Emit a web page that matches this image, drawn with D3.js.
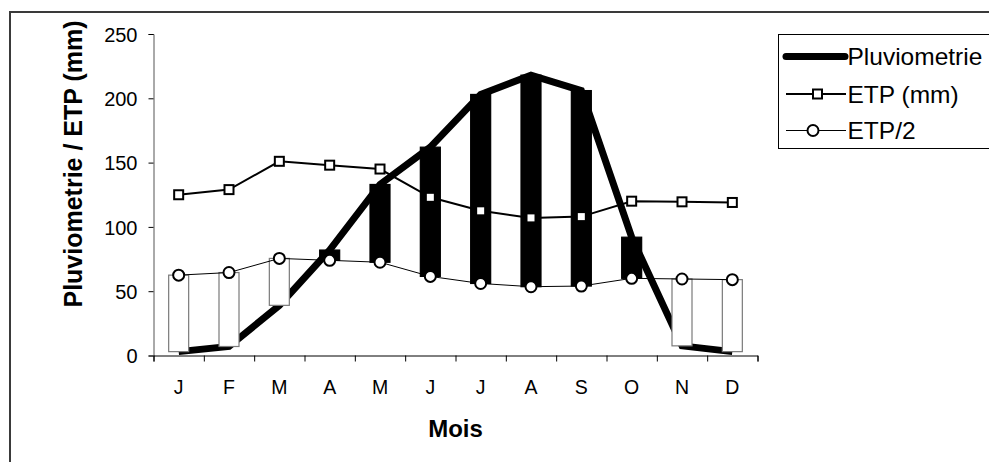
<!DOCTYPE html>
<html>
<head>
<meta charset="utf-8">
<script src="https://cdn.jsdelivr.net/npm/d3@7"></script>
<style>
  html, body { margin: 0; padding: 0; background: #fff; }
  svg { display: block; }
  text { font-family: "Liberation Sans", Arial, sans-serif; fill: #000; }
</style>
</head>
<body>
<svg id="chart" width="989" height="462"></svg>
<script>
// ---- data ----
const months = ["J", "F", "M", "A", "M", "J", "J", "A", "S", "O", "N", "D"];
const pluvio = [3, 7, 39, 82, 133, 162, 203, 218, 206, 92, 7.5, 3];
const etp    = [125, 129, 151, 148, 145, 123, 112.5, 107, 108, 120, 119.5, 119];
const etp2   = [62.5, 64.5, 75.5, 74, 72.5, 61.5, 56, 53.5, 54, 60, 59.5, 59];
const yTicks = [0, 50, 100, 150, 200, 250];
const seriesNames = ["Pluviometrie", "ETP (mm)", "ETP/2"];
const yTitle = "Pluviometrie / ETP (mm)";
const xTitle = "Mois";

const svg = d3.select("#chart");

// outer chart frame (cropped on right and bottom)
svg.append("rect")
  .attr("x", 10).attr("y", 12)
  .attr("width", 1100).attr("height", 600)
  .attr("fill", "none").attr("stroke", "#3a3a3a").attr("stroke-width", 2);

const x = d3.scaleBand().domain(d3.range(months.length)).range([153.5, 757.5]).padding(0);
const cx = i => x(i) + x.bandwidth() / 2;
const y = d3.scaleLinear().domain([0, 250]).range([355.5, 34]);

// y axis
const yAxis = d3.axisLeft(y).tickValues(yTicks).tickSize(5).tickPadding(11).tickFormat(d3.format("d"));
const gy = svg.append("g").attr("transform", "translate(153.5,0)").call(yAxis);
gy.select(".domain").attr("stroke", "#555").attr("stroke-width", 1);
gy.selectAll(".tick line").attr("stroke", "#000");
gy.selectAll(".tick text").style("font-size", "20px").attr("font-family", null).attr("dy", "0.36em");

// x axis: ticks between categories
const xLin = d3.scaleLinear().domain([0, months.length]).range([153.5, 757.5]);
const gx = svg.append("g").attr("transform", "translate(0,355.5)")
  .call(d3.axisBottom(xLin).tickValues(d3.range(months.length + 1)).tickSize(6).tickFormat(""));
gx.select(".domain").attr("stroke", "#000");
gx.selectAll(".tick line").attr("stroke", "#000");
svg.append("g").selectAll("text").data(months).join("text")
  .attr("x", (d, i) => cx(i)).attr("y", 393.5)
  .attr("text-anchor", "middle").style("font-size", "19.5px")
  .text(d => d);

// axis titles
svg.append("text")
  .attr("transform", "translate(82,164) rotate(-90)")
  .attr("text-anchor", "middle")
  .style("font-size", "25px").style("font-weight", "bold")
  .text(yTitle);
svg.append("text")
  .attr("x", 455.5).attr("y", 436.5)
  .attr("text-anchor", "middle")
  .style("font-size", "24px").style("font-weight", "bold")
  .text(xTitle);

// Pluviometrie thick line (under the up/down bars)
const line = d3.line().x((d, i) => cx(i)).y(d => y(d));
svg.append("path").datum(pluvio)
  .attr("d", line).attr("fill", "none")
  .attr("stroke", "#000").attr("stroke-width", 7).attr("stroke-linejoin", "miter");

// up/down bars between Pluviometrie and ETP/2
const barW = 20;
svg.append("g").selectAll("rect").data(months.map((m, i) => i)).join("rect")
  .attr("x", i => cx(i) - barW / 2)
  .attr("width", barW)
  .attr("y", i => y(Math.max(pluvio[i], etp2[i])))
  .attr("height", i => Math.abs(y(pluvio[i]) - y(etp2[i])))
  .attr("fill", i => pluvio[i] > etp2[i] ? "#000" : "#fff")
  .attr("stroke", i => pluvio[i] > etp2[i] ? "#000" : "#7a7a7a")
  .attr("stroke-width", 1.2);

// ETP/2 line
svg.append("path").datum(etp2)
  .attr("d", line).attr("fill", "none")
  .attr("stroke", "#000").attr("stroke-width", 1);

// ETP line
svg.append("path").datum(etp)
  .attr("d", line).attr("fill", "none")
  .attr("stroke", "#000").attr("stroke-width", 2);

// ETP markers (squares)
svg.append("g").selectAll("rect").data(etp).join("rect")
  .attr("x", (d, i) => cx(i) - 4.5).attr("y", d => y(d) - 4.5)
  .attr("width", 9).attr("height", 9)
  .attr("fill", "#fff").attr("stroke", "#000").attr("stroke-width", 2);

// ETP/2 markers (circles)
svg.append("g").selectAll("circle").data(etp2).join("circle")
  .attr("cx", (d, i) => cx(i)).attr("cy", d => y(d)).attr("r", 5.5)
  .attr("fill", "#fff").attr("stroke", "#000").attr("stroke-width", 2);

// legend
const lg = svg.append("g");
lg.append("rect").attr("x", 778.5).attr("y", 34.5).attr("width", 260).attr("height", 114)
  .attr("fill", "#fff").attr("stroke", "#000").attr("stroke-width", 1);
const rows = [56.5, 94, 130.5];
// Pluviometrie
lg.append("line").attr("x1", 786).attr("x2", 845).attr("y1", rows[0]).attr("y2", rows[0])
  .attr("stroke", "#000").attr("stroke-width", 7).attr("stroke-linecap", "round");
// ETP
lg.append("line").attr("x1", 786).attr("x2", 846).attr("y1", rows[1]).attr("y2", rows[1])
  .attr("stroke", "#000").attr("stroke-width", 2);
lg.append("rect").attr("x", 813).attr("y", rows[1] - 4.5).attr("width", 9).attr("height", 9)
  .attr("fill", "#fff").attr("stroke", "#000").attr("stroke-width", 2);
// ETP/2
lg.append("line").attr("x1", 786).attr("x2", 846).attr("y1", rows[2]).attr("y2", rows[2])
  .attr("stroke", "#000").attr("stroke-width", 1);
lg.append("circle").attr("cx", 813).attr("cy", rows[2]).attr("r", 5.5)
  .attr("fill", "#fff").attr("stroke", "#000").attr("stroke-width", 2);
lg.selectAll("text.lab").data(seriesNames).join("text")
  .attr("class", "lab")
  .attr("x", 847.5).attr("y", (d, i) => rows[i] + 8.5)
  .style("font-size", "24.5px")
  .text(d => d);
</script>
</body>
</html>
